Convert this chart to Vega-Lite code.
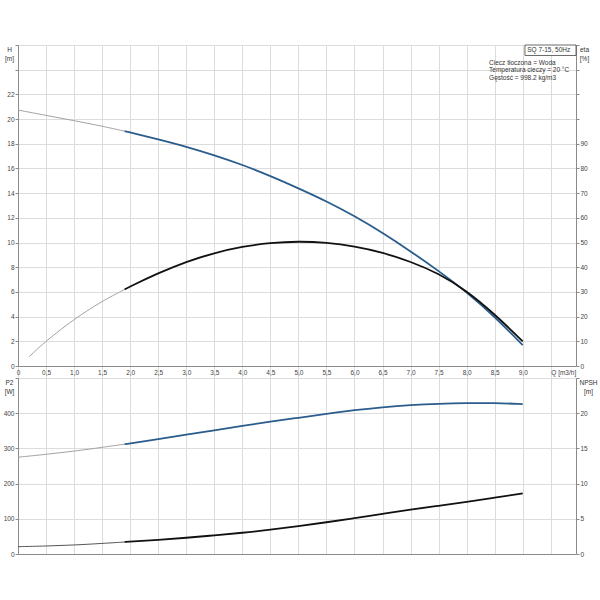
{
"$schema":"https://vega.github.io/schema/vega-lite/v6.json",
"padding":{"left":3,"top":42,"right":5,"bottom":5},
"datasets":{
"h":[
{"q":0,"h":20.73,"seg":"low"},{"q":0.5,"h":20.3,"seg":"low"},{"q":1.0,"h":19.87,"seg":"low"},{"q":1.5,"h":19.43,"seg":"low"},{"q":1.9,"h":19.02,"seg":"low"},
{"q":1.9,"h":19.02,"seg":"high"},{"q":2.0,"h":18.92,"seg":"high"},{"q":2.5,"h":18.36,"seg":"high"},{"q":3.0,"h":17.77,"seg":"high"},{"q":3.5,"h":17.07,"seg":"high"},{"q":4.0,"h":16.3,"seg":"high"},{"q":4.5,"h":15.4,"seg":"high"},{"q":5.0,"h":14.4,"seg":"high"},{"q":5.5,"h":13.35,"seg":"high"},{"q":6.0,"h":12.15,"seg":"high"},{"q":6.5,"h":10.8,"seg":"high"},{"q":7.0,"h":9.3,"seg":"high"},{"q":7.5,"h":7.7,"seg":"high"},{"q":8.0,"h":6.0,"seg":"high"},{"q":8.5,"h":4.0,"seg":"high"},{"q":9.0,"h":1.7,"seg":"high"}],
"eta":[
{"q":0.2,"eta":3.8,"seg":"low"},{"q":0.5,"eta":10.2,"seg":"low"},{"q":1.0,"eta":19.0,"seg":"low"},{"q":1.5,"eta":26.3,"seg":"low"},{"q":1.9,"eta":31.0,"seg":"low"},
{"q":1.9,"eta":31.0,"seg":"high"},{"q":2.0,"eta":32.2,"seg":"high"},{"q":2.5,"eta":37.6,"seg":"high"},{"q":3.0,"eta":42.3,"seg":"high"},{"q":3.5,"eta":45.8,"seg":"high"},{"q":4.0,"eta":48.4,"seg":"high"},{"q":4.5,"eta":49.9,"seg":"high"},{"q":5.0,"eta":50.5,"seg":"high"},{"q":5.5,"eta":50.0,"seg":"high"},{"q":6.0,"eta":48.5,"seg":"high"},{"q":6.5,"eta":46.0,"seg":"high"},{"q":7.0,"eta":42.3,"seg":"high"},{"q":7.5,"eta":37.5,"seg":"high"},{"q":8.0,"eta":30.5,"seg":"high"},{"q":8.5,"eta":21.0,"seg":"high"},{"q":9.0,"eta":10.0,"seg":"high"}],
"p2":[
{"q":0,"p2":275,"seg":"low"},{"q":0.5,"p2":283,"seg":"low"},{"q":1.0,"p2":292,"seg":"low"},{"q":1.5,"p2":303,"seg":"low"},{"q":1.9,"p2":312,"seg":"low"},
{"q":1.9,"p2":312,"seg":"high"},{"q":2.0,"p2":314,"seg":"high"},{"q":2.5,"p2":326,"seg":"high"},{"q":3.0,"p2":339,"seg":"high"},{"q":3.5,"p2":351,"seg":"high"},{"q":4.0,"p2":364,"seg":"high"},{"q":4.5,"p2":376,"seg":"high"},{"q":5.0,"p2":387,"seg":"high"},{"q":5.5,"p2":398,"seg":"high"},{"q":6.0,"p2":409,"seg":"high"},{"q":6.5,"p2":417,"seg":"high"},{"q":7.0,"p2":423,"seg":"high"},{"q":7.5,"p2":427,"seg":"high"},{"q":8.0,"p2":429,"seg":"high"},{"q":8.5,"p2":429,"seg":"high"},{"q":9.0,"p2":426,"seg":"high"}],
"npsh":[
{"q":0,"npsh":1.04,"seg":"low"},{"q":0.5,"npsh":1.13,"seg":"low"},{"q":1.0,"npsh":1.27,"seg":"low"},{"q":1.5,"npsh":1.5,"seg":"low"},{"q":1.9,"npsh":1.7,"seg":"low"},
{"q":1.9,"npsh":1.7,"seg":"high"},{"q":2.0,"npsh":1.75,"seg":"high"},{"q":2.5,"npsh":2.0,"seg":"high"},{"q":3.0,"npsh":2.3,"seg":"high"},{"q":3.5,"npsh":2.65,"seg":"high"},{"q":4.0,"npsh":3.0,"seg":"high"},{"q":4.5,"npsh":3.45,"seg":"high"},{"q":5.0,"npsh":3.95,"seg":"high"},{"q":5.5,"npsh":4.5,"seg":"high"},{"q":6.0,"npsh":5.1,"seg":"high"},{"q":6.5,"npsh":5.7,"seg":"high"},{"q":7.0,"npsh":6.3,"seg":"high"},{"q":7.5,"npsh":6.85,"seg":"high"},{"q":8.0,"npsh":7.4,"seg":"high"},{"q":8.5,"npsh":8.0,"seg":"high"},{"q":9.0,"npsh":8.6,"seg":"high"}]
},
"spacing":12,
"bounds":"flush",
"vconcat":[
{
"width":558,"height":321,
"layer":[
{"layer":[
{"data":{"name":"h"},"mark":{"type":"line","interpolate":"basis"},
"encoding":{
"x":{"field":"q","type":"quantitative","scale":{"domain":[0,9.95],"nice":false,"zero":false},
"axis":{"values":[0,0.5,1,1.5,2,2.5,3,3.5,4,4.5,5,5.5,6,6.5,7,7.5,8,8.5,9,9.5],"title":null,"grid":true,"tickSize":12,"tickColor":"#dcdcdc","labelPadding":-9,"labelBaseline":"top","labelFlush":false,"labelOverlap":false,
"labelAlign":{"condition":{"test":"datum.value == 9.5","value":"left"},"value":"center"},
"labelExpr":"datum.value == 9.5 ? 'Q [m3/h]' : (datum.value == 0 ? '0' : replace(format(datum.value, '.1f'), '.', ','))"}},
"y":{"field":"h","type":"quantitative","scale":{"domain":[0,26],"nice":false},
"axis":{"values":[0,2,4,6,8,10,12,14,16,18,20,22,24,26],"labelOverlap":false,"labelExpr":"datum.value > 22 ? '' : datum.label","title":["H","[m]"],"titleAngle":0,"titleX":-9,"titleY":1,"titleAlign":"center","titleBaseline":"top","titleLineHeight":9,"grid":true}},
"detail":{"field":"seg"},
"color":{"condition":{"test":"datum.seg == 'low'","value":"#a3a3a3"},"value":"#2a5c8c"},
"strokeWidth":{"condition":{"test":"datum.seg == 'low'","value":1},"value":1.8}}},
{"data":{"values":[{}]},"mark":{"type":"rect","fill":"white","stroke":"#444","strokeWidth":0.8},
"encoding":{
"x":{"datum":9.04,"type":"quantitative","scale":{"domain":[0,9.95],"nice":false,"zero":false},
"axis":{"values":[0,0.5,1,1.5,2,2.5,3,3.5,4,4.5,5,5.5,6,6.5,7,7.5,8,8.5,9,9.5],"title":null,"grid":true,"tickSize":12,"tickColor":"#dcdcdc","labelPadding":-9,"labelBaseline":"top","labelFlush":false,"labelOverlap":false,
"labelAlign":{"condition":{"test":"datum.value == 9.5","value":"left"},"value":"center"},
"labelExpr":"datum.value == 9.5 ? 'Q [m3/h]' : (datum.value == 0 ? '0' : replace(format(datum.value, '.1f'), '.', ','))"}},
"x2":{"datum":9.95},
"y":{"datum":26,"type":"quantitative","scale":{"domain":[0,26],"nice":false},
"axis":{"values":[0,2,4,6,8,10,12,14,16,18,20,22,24,26],"labelOverlap":false,"labelExpr":"datum.value > 22 ? '' : datum.label","title":["H","[m]"],"titleAngle":0,"titleX":-9,"titleY":1,"titleAlign":"center","titleBaseline":"top","titleLineHeight":9,"grid":true}},
"y2":{"datum":25.15}}},
{"data":{"values":[{}]},"mark":{"type":"text","align":"left","baseline":"middle","fontSize":6.5,"font":"Liberation Sans","color":"#333","text":"SQ 7-15, 50Hz"},
"encoding":{
"x":{"datum":9.08,"type":"quantitative","scale":{"domain":[0,9.95],"nice":false,"zero":false},
"axis":{"values":[0,0.5,1,1.5,2,2.5,3,3.5,4,4.5,5,5.5,6,6.5,7,7.5,8,8.5,9,9.5],"title":null,"grid":true,"tickSize":12,"tickColor":"#dcdcdc","labelPadding":-9,"labelBaseline":"top","labelFlush":false,"labelOverlap":false,
"labelAlign":{"condition":{"test":"datum.value == 9.5","value":"left"},"value":"center"},
"labelExpr":"datum.value == 9.5 ? 'Q [m3/h]' : (datum.value == 0 ? '0' : replace(format(datum.value, '.1f'), '.', ','))"}},
"y":{"datum":25.57,"type":"quantitative","scale":{"domain":[0,26],"nice":false},
"axis":{"values":[0,2,4,6,8,10,12,14,16,18,20,22,24,26],"labelOverlap":false,"labelExpr":"datum.value > 22 ? '' : datum.label","title":["H","[m]"],"titleAngle":0,"titleX":-9,"titleY":1,"titleAlign":"center","titleBaseline":"top","titleLineHeight":9,"grid":true}}}},
{"data":{"values":[{}]},"mark":{"type":"text","align":"left","baseline":"top","fontSize":6.5,"font":"Liberation Sans","color":"#333","lineBreak":"\n","lineHeight":7.5,"text":"Ciecz tłoczona = Woda\nTemperatura cieczy = 20 °C\nGęstość = 998.2 kg/m3"},
"encoding":{
"x":{"datum":8.4,"type":"quantitative","scale":{"domain":[0,9.95],"nice":false,"zero":false},
"axis":{"values":[0,0.5,1,1.5,2,2.5,3,3.5,4,4.5,5,5.5,6,6.5,7,7.5,8,8.5,9,9.5],"title":null,"grid":true,"tickSize":12,"tickColor":"#dcdcdc","labelPadding":-9,"labelBaseline":"top","labelFlush":false,"labelOverlap":false,
"labelAlign":{"condition":{"test":"datum.value == 9.5","value":"left"},"value":"center"},
"labelExpr":"datum.value == 9.5 ? 'Q [m3/h]' : (datum.value == 0 ? '0' : replace(format(datum.value, '.1f'), '.', ','))"}},
"y":{"datum":24.8,"type":"quantitative","scale":{"domain":[0,26],"nice":false},
"axis":{"values":[0,2,4,6,8,10,12,14,16,18,20,22,24,26],"labelOverlap":false,"labelExpr":"datum.value > 22 ? '' : datum.label","title":["H","[m]"],"titleAngle":0,"titleX":-9,"titleY":1,"titleAlign":"center","titleBaseline":"top","titleLineHeight":9,"grid":true}}}}
]},
{"data":{"name":"eta"},"mark":{"type":"line","interpolate":"basis"},
"encoding":{
"x":{"field":"q","type":"quantitative","scale":{"domain":[0,9.95],"nice":false,"zero":false},
"axis":{"values":[0,0.5,1,1.5,2,2.5,3,3.5,4,4.5,5,5.5,6,6.5,7,7.5,8,8.5,9,9.5],"title":null,"grid":true,"tickSize":12,"tickColor":"#dcdcdc","labelPadding":-9,"labelBaseline":"top","labelFlush":false,"labelOverlap":false,
"labelAlign":{"condition":{"test":"datum.value == 9.5","value":"left"},"value":"center"},
"labelExpr":"datum.value == 9.5 ? 'Q [m3/h]' : (datum.value == 0 ? '0' : replace(format(datum.value, '.1f'), '.', ','))"}},
"y":{"field":"eta","type":"quantitative","scale":{"domain":[0,130],"nice":false},
"axis":{"orient":"right","values":[0,10,20,30,40,50,60,70,80,90,100,110,120,130],"labelOverlap":false,"labelExpr":"datum.value > 90 ? '' : datum.label","title":["eta","[%]"],"titleAngle":0,"titleX":8,"titleY":1,"titleAlign":"center","titleBaseline":"top","titleLineHeight":9,"grid":false}},
"detail":{"field":"seg"},
"color":{"condition":{"test":"datum.seg == 'low'","value":"#a3a3a3"},"value":"#111111"},
"strokeWidth":{"condition":{"test":"datum.seg == 'low'","value":1},"value":1.8}}}
],
"resolve":{"scale":{"y":"independent"}}
},
{
"width":558,"height":176,
"layer":[
{"data":{"name":"p2"},"mark":{"type":"line","interpolate":"basis"},
"encoding":{
"x":{"field":"q","type":"quantitative","scale":{"domain":[0,9.95],"nice":false,"zero":false},
"axis":{"values":[0,0.5,1,1.5,2,2.5,3,3.5,4,4.5,5,5.5,6,6.5,7,7.5,8,8.5,9,9.5],"title":null,"grid":true,"labels":false,"ticks":false}},
"y":{"field":"p2","type":"quantitative","scale":{"domain":[0,500],"nice":false},
"axis":{"values":[0,100,200,300,400,500],"labelOverlap":false,"labelExpr":"datum.value > 400 ? '' : datum.label","title":["P2","[W]"],"titleAngle":0,"titleX":-9,"titleY":1,"titleAlign":"center","titleBaseline":"top","titleLineHeight":9,"grid":true}},
"detail":{"field":"seg"},
"color":{"condition":{"test":"datum.seg == 'low'","value":"#a3a3a3"},"value":"#2a5c8c"},
"strokeWidth":{"condition":{"test":"datum.seg == 'low'","value":1},"value":1.8}}},
{"data":{"name":"npsh"},"mark":{"type":"line","interpolate":"basis"},
"encoding":{
"x":{"field":"q","type":"quantitative","scale":{"domain":[0,9.95],"nice":false,"zero":false},
"axis":{"values":[0,0.5,1,1.5,2,2.5,3,3.5,4,4.5,5,5.5,6,6.5,7,7.5,8,8.5,9,9.5],"title":null,"grid":true,"labels":false,"ticks":false}},
"y":{"field":"npsh","type":"quantitative","scale":{"domain":[0,25],"nice":false},
"axis":{"orient":"right","values":[0,5,10,15,20,25],"labelOverlap":false,"labelExpr":"datum.value > 20 ? '' : datum.label","title":["NPSH","[m]"],"titleAngle":0,"titleX":12,"titleY":1,"titleAlign":"center","titleBaseline":"top","titleLineHeight":9,"grid":false}},
"detail":{"field":"seg"},
"color":{"condition":{"test":"datum.seg == 'low'","value":"#555555"},"value":"#111111"},
"strokeWidth":{"condition":{"test":"datum.seg == 'low'","value":1},"value":1.8}}}
],
"resolve":{"scale":{"y":"independent"}}
}
],
"config":{
"view":{"stroke":null},
"axis":{"labelFont":"Liberation Sans","labelFontSize":6.5,"labelColor":"#444","titleFont":"Liberation Sans","titleFontSize":6.5,"titleColor":"#333","titleFontWeight":"normal","gridColor":"#dcdcdc","gridWidth":1,"domainColor":"#8a8a8a","tickColor":"#8a8a8a","tickSize":3,"labelPadding":1,"labelOverlap":false}
}
}
